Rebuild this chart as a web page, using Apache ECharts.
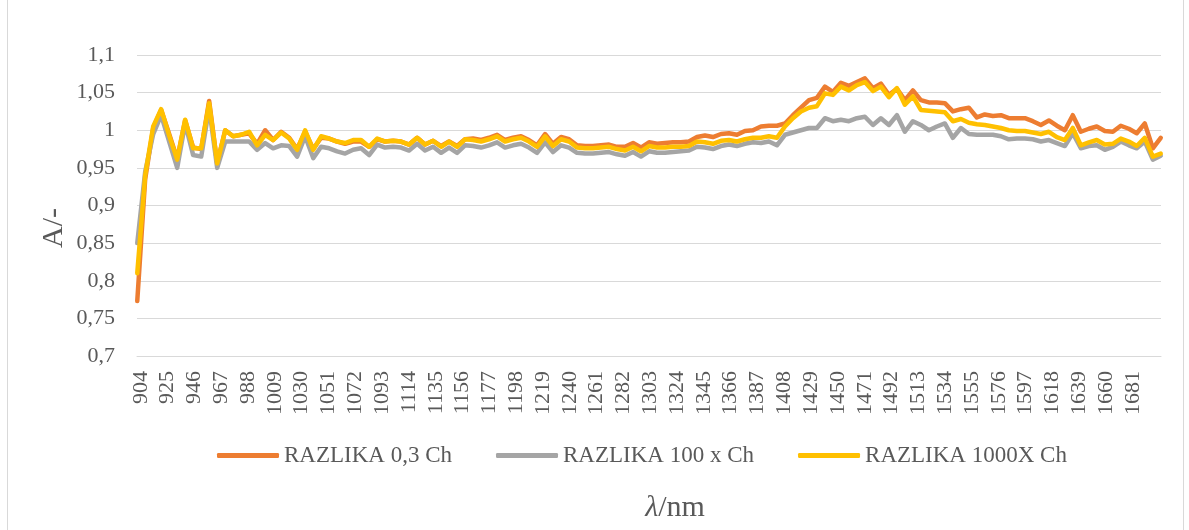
<!DOCTYPE html>
<html>
<head>
<meta charset="utf-8">
<script src="https://cdn.jsdelivr.net/npm/echarts@6/dist/echarts.min.js"></script>
<style>
html,body{margin:0;padding:0;background:#fff;}
#c{width:1189px;height:530px;}
</style>
</head>
<body>
<div id="c"></div>
<script>
// wavelength of each measured point (nm)
const wavelengths = [901.2,907.4,913.7,919.9,926.2,932.5,938.7,945.0,951.3,957.5,963.8,970.1,976.3,982.6,988.8,995.1,1001.4,1007.6,1013.9,1020.2,1026.4,1032.7,1039.0,1045.2,1051.5,1057.7,1064.0,1070.3,1076.5,1082.8,1089.1,1095.3,1101.6,1107.8,1114.1,1120.4,1126.6,1132.9,1139.2,1145.4,1151.7,1157.9,1164.2,1170.5,1176.7,1183.0,1189.3,1195.5,1201.8,1208.0,1214.3,1220.6,1226.8,1233.1,1239.4,1245.6,1251.9,1258.1,1264.4,1270.7,1276.9,1283.2,1289.5,1295.7,1302.0,1308.3,1314.5,1320.8,1327.0,1333.3,1339.6,1345.8,1352.1,1358.4,1364.6,1370.9,1377.1,1383.4,1389.7,1395.9,1402.2,1408.5,1414.7,1421.0,1427.3,1433.5,1439.8,1446.0,1452.3,1458.6,1464.8,1471.1,1477.4,1483.6,1489.9,1496.2,1502.4,1508.7,1514.9,1521.2,1527.5,1533.7,1540.0,1546.3,1552.5,1558.8,1565.0,1571.3,1577.6,1583.8,1590.1,1596.4,1602.6,1608.9,1615.2,1621.4,1627.7,1633.9,1640.2,1646.5,1652.7,1659.0,1665.3,1671.5,1677.8,1684.0,1690.3,1696.6,1702.8];

const razlika03 = [0.773,0.935,1.003,1.027,0.995,0.962,1.013,0.977,0.975,1.039,0.956,1.0,0.992,0.994,0.996,0.982,1.0,0.987,0.998,0.99,0.975,0.998,0.975,0.99,0.989,0.985,0.982,0.985,0.985,0.978,0.988,
0.985,0.986,0.985,0.981,0.99,0.981,0.986,0.979,0.985,0.979,0.988,0.989,0.987,0.99,0.994,0.987,0.99,0.992,0.987,0.98,0.995,0.982,0.991,0.988,
0.980,0.979,0.979,0.980,0.981,0.978,0.978,0.983,0.977,0.984,0.982,0.983,0.984,0.984,0.985,
0.991,0.993,0.991,0.995,0.996,0.994,0.999,1.0,1.005,1.006,
1.006,1.009,1.02,1.03,1.04,1.043,1.058,1.051,1.063,1.059,1.064,1.069,1.056,1.062,1.047,1.055,1.04,1.053,1.04,1.037,1.037,1.036,1.025,1.028,1.03,1.017,1.021,1.019,1.02,1.016,1.016,1.016,1.012,1.007,1.013,1.006,1.0,1.02,0.998,1.002,1.005,0.999,0.998,1.006,1.002,0.996,1.009,0.976,0.99];

const razlika100 = [0.85,0.945,0.995,1.02,0.985,0.95,1.009,0.967,0.965,1.03,0.95,0.985,0.985,0.985,0.985,0.974,0.983,0.976,0.98,0.979,0.965,0.992,0.963,0.978,0.976,0.972,0.969,0.974,0.976,0.967,0.981,
0.977,0.978,0.977,0.973,0.982,0.973,0.978,0.970,0.977,0.970,0.980,0.979,0.977,0.980,0.984,0.977,0.980,0.982,0.977,0.970,0.984,0.971,0.980,0.977,
0.970,0.969,0.969,0.970,0.971,0.968,0.966,0.971,0.965,0.972,0.970,0.970,0.971,0.972,0.973,
0.978,0.977,0.975,0.979,0.981,0.979,0.982,0.984,0.983,0.985,
0.98,0.994,0.997,1.0,1.003,1.003,1.016,1.012,1.014,1.012,1.016,1.018,1.007,1.016,1.007,1.02,0.998,1.012,1.007,1.0,1.005,1.009,0.99,1.003,0.995,0.994,0.994,0.994,0.992,0.988,0.989,0.989,0.988,0.985,0.987,0.983,0.979,0.996,0.976,0.979,0.98,0.974,0.978,0.985,0.98,0.976,0.985,0.961,0.966];

const razlika1000 = [0.81,0.94,1.005,1.028,0.993,0.961,1.014,0.976,0.976,1.036,0.956,1.0,0.992,0.994,0.998,0.98,0.994,0.987,0.997,0.989,0.974,1.0,0.974,0.992,0.989,0.985,0.983,0.987,0.987,0.978,0.989,
0.985,0.986,0.985,0.981,0.99,0.981,0.986,0.978,0.985,0.978,0.988,0.987,0.985,0.988,0.992,0.985,0.988,0.99,0.985,0.978,0.992,0.979,0.988,0.985,
0.977,0.976,0.976,0.977,0.978,0.975,0.973,0.978,0.972,0.979,0.977,0.977,0.978,0.978,0.979,
0.985,0.984,0.982,0.986,0.987,0.985,0.988,0.99,0.99,0.992,
0.99,1.005,1.016,1.025,1.03,1.032,1.049,1.047,1.058,1.053,1.06,1.064,1.052,1.058,1.044,1.056,1.034,1.045,1.027,1.026,1.025,1.024,1.012,1.015,1.01,1.008,1.007,1.005,1.003,1.0,0.999,0.999,0.997,0.995,0.998,0.991,0.987,1.003,0.98,0.984,0.987,0.981,0.982,0.989,0.985,0.979,0.99,0.965,0.969];

const xTickLabels = [904,925,946,967,988,1009,1030,1051,1072,1093,1114,1135,1156,1177,1198,1219,1240,1261,1282,1303,1324,1345,1366,1387,1408,1429,1450,1471,1492,1513,1534,1555,1576,1597,1618,1639,1660,1681];

const seriesNames = ['RAZLIKA 0,3 Ch','RAZLIKA 100 x Ch','RAZLIKA 1000X Ch'];
const seriesColors = ['#ED7D31','#A5A5A5','#FFC000'];
const seriesValues = [razlika03, razlika100, razlika1000];

const FONT = "'Liberation Serif','Times New Roman',serif";
const TXT = '#595959';

const chart = echarts.init(document.getElementById('c'), null, {renderer:'canvas'});
chart.setOption({
  animation:false,
  backgroundColor:'#fff',
  grid:{left:137, right:28, top:55, bottom:174},
  legend:{
    data:seriesNames,
    left:212, top:439,
    icon:'roundRect',
    itemWidth:62, itemHeight:5, itemGap:44,
    textStyle:{fontFamily:FONT, fontSize:23, color:TXT}
  },
  xAxis:{
    type:'value', min:901, max:1703,
    axisLine:{show:true, lineStyle:{color:'#d9d9d9', width:1}},
    axisTick:{show:false},
    splitLine:{show:false},
    axisLabel:{customValues:xTickLabels, rotate:90, margin:15, fontFamily:FONT, fontSize:22, color:TXT,
      formatter:v=>String(Math.round(v))}
  },
  yAxis:{
    type:'value', min:0.7, max:1.1, interval:0.05,
    axisLine:{show:false}, axisTick:{show:false},
    splitLine:{lineStyle:{color:'#d9d9d9', width:1}},
    axisLabel:{margin:22, fontFamily:FONT, fontSize:22, color:TXT,
      formatter:v=>String(Number(v.toFixed(2))).replace('.',',')}
  },
  graphic:[
    {type:'rect', shape:{x:7.5, y:-2, width:1176, height:534}, style:{fill:'none', stroke:'#d9d9d9', lineWidth:1}, silent:true},
    {type:'text', x:54, y:228, rotation:Math.PI/2,
      style:{text:'A/-', font:"30px 'Liberation Serif','Times New Roman',serif", fill:TXT, textAlign:'center', textVerticalAlign:'middle'}},
    {type:'text', x:675, y:508,
      style:{text:'{a|λ}/nm', font:"30px 'Liberation Serif','Times New Roman',serif", fill:TXT, textAlign:'center', textVerticalAlign:'middle',
        rich:{a:{fontStyle:'italic', fontFamily:FONT, fontSize:30, fill:TXT}}}}
  ],
  series: seriesNames.map((n,k)=>({
    name:n, type:'line', symbol:'none', showSymbol:false, smooth:false,
    color:seriesColors[k],
    lineStyle:{width:4.5, color:seriesColors[k], cap:'round', join:'round'},
    emphasis:{disabled:true},
    data: wavelengths.map((w,i)=>[w, seriesValues[k][i]])
  }))
});
</script>
</body>
</html>
